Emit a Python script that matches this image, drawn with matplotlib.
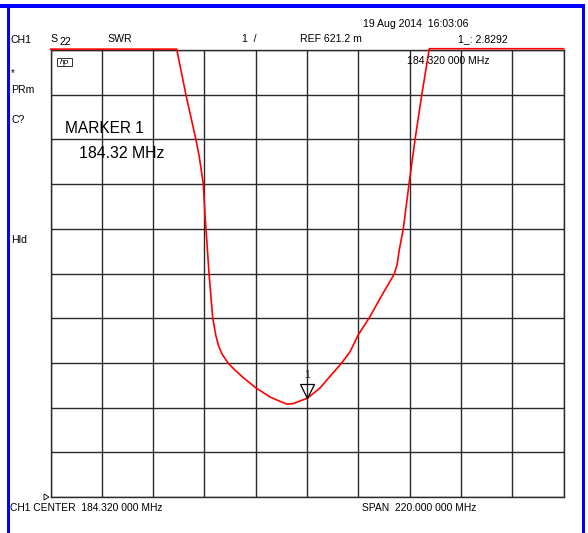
import matplotlib
matplotlib.use("Agg")
import matplotlib.pyplot as plt
from matplotlib.patches import Rectangle, Polygon
from matplotlib.transforms import ScaledTranslation

plt.rcParams['font.family'] = ['Liberation Sans', 'DejaVu Sans']

# ---- data ----
center_mhz = 184.32
span_mhz = 220.0
ref_value = 0.6212      # SWR at bottom graticule line
scale_per_div = 1.0
n_div = 10

freq_mhz = [74.32, 128.40, 132.39, 136.67, 138.09, 139.81, 140.66, 140.96, 142.25,
            143.84, 145.12, 146.24, 147.82, 150.40, 153.40, 156.96, 159.83, 162.41,
            165.41, 168.41, 171.84, 175.57, 178.27, 181.28, 184.40, 187.28, 189.85,
            194.14, 199.16, 202.72, 206.28, 210.99, 216.44, 221.71, 222.87, 223.86,
            225.57, 228.02, 230.59, 233.47, 236.72, 294.32]
swr = [10.64, 10.64, 9.61, 8.61, 8.23, 7.62, 6.82, 6.62, 5.63,
       4.63, 4.25, 4.02, 3.82, 3.62, 3.46, 3.29, 3.17, 3.06,
       2.96, 2.86, 2.78, 2.70, 2.71, 2.77, 2.83, 2.95, 3.06,
       3.32, 3.62, 3.87, 4.25, 4.63, 5.14, 5.61, 5.81, 6.15,
       6.62, 7.62, 8.61, 9.61, 10.65, 10.65]
marker_freq = 184.32
marker_swr = 2.8292

W, H = 588, 533
fig = plt.figure(figsize=(W/100, H/100), dpi=100)
fig.patch.set_facecolor('white')

gl, gr, gt, gb = 50.6, 563.6, 50.0, 497.0
ax = fig.add_axes([gl/W, 1-gb/H, (gr-gl)/W, (gb-gt)/H])
start = center_mhz - span_mhz/2
stop = center_mhz + span_mhz/2
ax.set_xlim(start, stop)
ax.set_ylim(ref_value, ref_value + n_div*scale_per_div)
ax.set_xticks([start + i*span_mhz/n_div for i in range(n_div+1)])
ax.set_yticks([ref_value + i*scale_per_div for i in range(n_div+1)])
ax.tick_params(length=0, labelbottom=False, labelleft=False)
ax.grid(True, color='#2a2a2a', lw=1.0)
for s in ax.spines.values():
    s.set_color('#2a2a2a')
    s.set_linewidth(1.0)
ax.set_axisbelow(True)

ax.plot(freq_mhz, swr, color='#ff0000', lw=1.2, clip_on=False, zorder=5)

# marker triangle (tip on the trace)
shift = ax.transData + ScaledTranslation(0, 7.5/100, fig.dpi_scale_trans)
ax.plot([marker_freq], [marker_swr], marker='v', markersize=10.5, markerfacecolor='none',
        markeredgecolor='black', markeredgewidth=0.9, zorder=6, transform=shift)
ax.annotate('1', (marker_freq, marker_swr), xytext=(0, 16.5), textcoords='offset points',
            ha='center', va='center', fontsize=7.5, color='#333333')

def ft(x, y, s, size=7.6, **kw):
    fig.text(x/W, 1-y/H, s, fontsize=size, va='center', ha='left', color='black', **kw)

ft(363, 24, '19 Aug 2014  16:03:06')
ft(10, 40, 'CH1')
ft(50, 39, 'S')
ft(59, 42, '22')
ft(107, 39, 'SWR')
ft(242, 39, '1  /')
ft(300, 39, 'REF 621.2 m')
ft(458, 39, '1_: 2.8292')
ft(407, 61, '184.320 000 MHz')
ft(11, 73, '*', size=7)
ft(11, 90, 'PRm')
ft(11, 120, 'C?')
ft(11, 240, 'Hld')
ft(65, 129, 'MARKER 1', size=11.2)
ft(79, 153, '184.32 MHz', size=11.4)
ft(10, 508, 'CH1 CENTER  184.320 000 MHz', size=7.4)
ft(362, 508, 'SPAN  220.000 000 MHz', size=7.4)

# hp logo
fig.add_artist(Rectangle((57/W, 1-66/H), 15/W, 8/H, transform=fig.transFigure,
                         fill=False, edgecolor='#333333', lw=0.7))
fig.text(64.5/W, 1-62/H, 'hp', fontsize=6, style='italic', ha='center', va='center')

# reference position marker
fig.add_artist(Polygon([(44/W, 1-494/H), (44/W, 1-500/H), (49/W, 1-497/H)],
                       closed=True, transform=fig.transFigure, fill=False,
                       edgecolor='black', lw=0.6))

# blue frame
blue = '#0000ff'
fig.add_artist(Rectangle((0, 1-7.5/H), 585/W, 3.5/H, transform=fig.transFigure,
                         color=blue, lw=0))
fig.add_artist(Rectangle((6.5/W, 0), 3.5/W, 1-4/H, transform=fig.transFigure,
                         color=blue, lw=0))
fig.add_artist(Rectangle((582/W, 0), 3/W, 1-4/H, transform=fig.transFigure,
                         color=blue, lw=0))

fig.savefig('out.png', dpi=100)
